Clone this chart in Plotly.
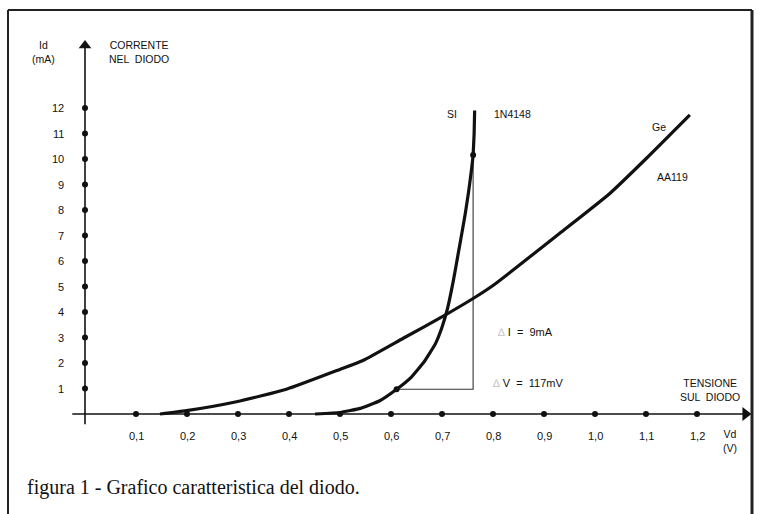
import plotly.graph_objects as go

# Forward characteristics (V in volts, I in mA)
si_v = [0.451, 0.50, 0.54, 0.578, 0.611, 0.64, 0.665, 0.687, 0.70, 0.711, 0.722, 0.731, 0.739, 0.746, 0.752, 0.757, 0.761, 0.763, 0.764]
si_i = [0.0, 0.06, 0.22, 0.52, 0.97, 1.45, 2.05, 2.75, 3.40, 4.15, 5.20, 6.20, 7.10, 7.90, 8.70, 9.45, 10.16, 11.0, 11.9]

ge_v = [0.147, 0.199, 0.297, 0.395, 0.50, 0.545, 0.624, 0.706, 0.761, 0.80, 0.931, 1.029, 1.101, 1.186]
ge_i = [0.0, 0.13, 0.48, 0.97, 1.75, 2.10, 2.97, 3.88, 4.53, 5.04, 7.09, 8.65, 10.03, 11.73]

# Operating points used for the ΔV / ΔI construction
op_v = [0.611, 0.761]
op_i = [0.97, 10.16]

x_ticks = [0.1, 0.2, 0.3, 0.4, 0.5, 0.6, 0.7, 0.8, 0.9, 1.0, 1.1, 1.2]
x_tick_labels = ["0,1", "0,2", "0,3", "0,4", "0,5", "0,6", "0,7", "0,8", "0,9", "1,0", "1,1", "1,2"]
y_ticks = [1, 2, 3, 4, 5, 6, 7, 8, 9, 10, 11, 12]
y_tick_labels = [str(t) for t in y_ticks]

SANS = "Liberation Sans"
INK = "#111111"

fig = go.Figure()

# Axes drawn as lines with arrowheads
fig.add_trace(go.Scatter(x=[0, 0], y=[-0.4, 14.4], mode="lines",
                         line=dict(color=INK, width=1.6), hoverinfo="skip"))
fig.add_trace(go.Scatter(x=[-0.025, 1.29], y=[0, 0], mode="lines",
                         line=dict(color=INK, width=1.6), hoverinfo="skip"))
fig.add_trace(go.Scatter(x=[0], y=[14.45], mode="markers",
                         marker=dict(symbol="triangle-up", size=11, color=INK), hoverinfo="skip"))
fig.add_trace(go.Scatter(x=[1.295], y=[0], mode="markers",
                         marker=dict(symbol="triangle-right", size=12, color=INK), hoverinfo="skip"))

# Tick dots on both axes
fig.add_trace(go.Scatter(x=[0] * len(y_ticks), y=y_ticks, mode="markers",
                         marker=dict(size=6, color=INK), hoverinfo="skip"))
fig.add_trace(go.Scatter(x=x_ticks, y=[0] * len(x_ticks), mode="markers",
                         marker=dict(size=6, color=INK), hoverinfo="skip"))

# ΔV / ΔI triangle on the silicon curve
fig.add_trace(go.Scatter(x=[op_v[0], op_v[1], op_v[1]], y=[op_i[0], op_i[0], op_i[1]],
                         mode="lines", line=dict(color="#333333", width=1.1), hoverinfo="skip"))

# Diode curves
fig.add_trace(go.Scatter(x=ge_v, y=ge_i, mode="lines",
                         line=dict(color=INK, width=3.2, shape="spline", smoothing=0.5), hoverinfo="skip"))
fig.add_trace(go.Scatter(x=si_v, y=si_i, mode="lines",
                         line=dict(color=INK, width=3.2, shape="spline", smoothing=0.3), hoverinfo="skip"))
fig.add_trace(go.Scatter(x=op_v, y=op_i, mode="markers", marker=dict(size=6, color=INK), hoverinfo="skip"))

ann = []
for t, lab in zip(y_ticks, y_tick_labels):
    ann.append(dict(x=-0.037, y=t, text=lab, xanchor="right", yanchor="middle", showarrow=False,
                    font=dict(family=SANS, size=11, color=INK)))
for t, lab in zip(x_ticks, x_tick_labels):
    ann.append(dict(x=t, y=-0.86, text=lab, xanchor="center", yanchor="middle", showarrow=False,
                    font=dict(family=SANS, size=11, color=INK)))

def label(x, y, text, anchor="left", size=10.5):
    ann.append(dict(x=x, y=y, text=text, xanchor=anchor, yanchor="middle", showarrow=False,
                    align="center", font=dict(family=SANS, size=size, color=INK)))

label(-0.082, 14.2, "Id<br>(mA)", "center")
label(0.106, 14.2, "CORRENTE<br>NEL  DIODO", "center")
label(0.733, 11.75, "SI", "right")
label(0.839, 11.75, "1N4148", "center")
label(1.125, 11.25, "Ge", "center")
label(1.151, 9.3, "AA119", "center")
label(0.805, 3.2, "<span style='color:#c4c4c4'>∆</span> I  =  9mA", "left", 11)
label(0.797, 1.2, "<span style='color:#c4c4c4'>∆</span> V  =  117mV", "left", 11)
label(1.225, 0.95, "TENSIONE<br>SUL  DIODO", "center")
label(1.265, -1.06, "Vd<br>(V)", "center")

ann.append(dict(x=25 / 782, y=1 - 487 / 514, xref="paper", yref="paper",
                text="figura 1 - Grafico caratteristica del diodo.",
                xanchor="left", yanchor="middle", showarrow=False,
                font=dict(family="Liberation Serif", size=20, color=INK)))

# Frame around the figure
shapes = [
    dict(type="line", xref="paper", yref="paper", x0=8 / 782, x1=8 / 782, y0=0, y1=1 - 10 / 514,
         line=dict(color="#222222", width=2)),
    dict(type="line", xref="paper", yref="paper", x0=8 / 782, x1=752 / 782, y0=1 - 10 / 514, y1=1 - 10 / 514,
         line=dict(color="#222222", width=2)),
    dict(type="line", xref="paper", yref="paper", x0=752 / 782, x1=752 / 782, y0=0, y1=1 - 10 / 514,
         line=dict(color="#222222", width=3)),
]

fig.update_layout(
    width=782, height=514, autosize=False,
    margin=dict(l=0, r=0, t=0, b=0),
    paper_bgcolor="white", plot_bgcolor="white",
    showlegend=False,
    xaxis=dict(range=[-85 / 510, 697 / 510], visible=False, fixedrange=True),
    yaxis=dict(range=[-100 / 25.5, 414 / 25.5], visible=False, fixedrange=True),
    annotations=ann, shapes=shapes,
)

fig.write_html("out.html")
